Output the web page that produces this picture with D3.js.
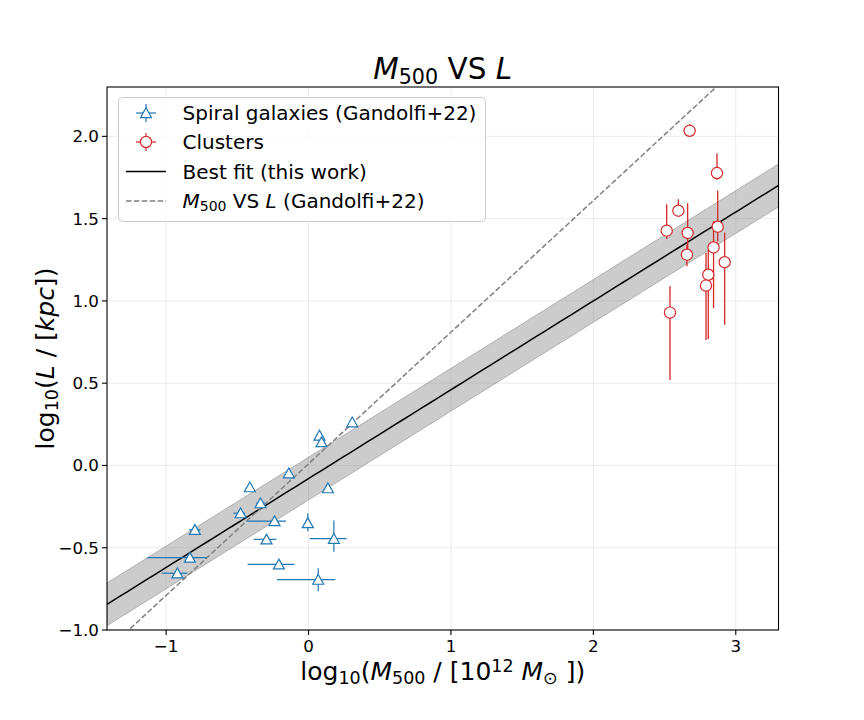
<!DOCTYPE html>
<html><head><meta charset="utf-8">
<script src="https://cdn.jsdelivr.net/npm/d3@7"></script>
<style>body{margin:0;background:#fff}svg{font-family:"DejaVu Sans",sans-serif}</style>
</head><body><svg id="c" width="864" height="720"></svg>
<script>
// ---- data ----
const spiralX     = [0.307, 0.077, 0.091, -0.138, -0.412, 0.136, -0.337, -0.477, -0.239, -0.005, -0.798, -0.295, 0.178, -0.833, -0.208, -0.921, 0.068];
const spiralY     = [0.263, 0.182, 0.142, -0.047, -0.132, -0.138, -0.229, -0.290, -0.338, -0.350, -0.391, -0.449, -0.445, -0.560, -0.601, -0.655, -0.694];
const spiralXErrLo= [0.00, 0.00, 0.00, 0.00, 0.00, 0.00, 0.03, 0.05, 0.19, 0.00, 0.04, 0.09, 0.17, 0.30, 0.22, 0.11, 0.29];
const spiralXErrHi= [0.00, 0.00, 0.00, 0.00, 0.00, 0.00, 0.03, 0.03, 0.08, 0.00, 0.04, 0.07, 0.09, 0.12, 0.11, 0.07, 0.12];
const spiralYErrLo= [0.00, 0.00, 0.00, 0.00, 0.00, 0.00, 0.00, 0.00, 0.00, 0.05, 0.00, 0.00, 0.08, 0.00, 0.00, 0.00, 0.07];
const spiralYErrHi= [0.00, 0.00, 0.00, 0.00, 0.00, 0.00, 0.00, 0.00, 0.00, 0.06, 0.00, 0.00, 0.11, 0.00, 0.00, 0.00, 0.07];

const clusterX    = [2.676, 2.868, 2.597, 2.515, 2.662, 2.873, 2.657, 2.844, 2.922, 2.807, 2.791, 2.538];
const clusterY    = [2.034, 1.777, 1.548, 1.427, 1.413, 1.451, 1.281, 1.325, 1.235, 1.159, 1.093, 0.929];
const clusterYErrLo=[0.03, 0.04, 0.03, 0.05, 0.10, 0.09, 0.07, 0.37, 0.38, 0.39, 0.33, 0.41];
const clusterYErrHi=[0.04, 0.12, 0.07, 0.16, 0.18, 0.22, 0.06, 0.16, 0.18, 0.15, 0.20, 0.16];

const fitSlope = 0.54, fitIntercept = -0.08, fitScatter = 0.13;
const refSlope = 0.80, refIntercept = 0.01;

const xTicks = [-1, 0, 1, 2, 3];
const yTicks = [-1.0, -0.5, 0.0, 0.5, 1.0, 1.5, 2.0];
const xDomain = [-1.415, 3.30];
const yDomain = [-1.0, 2.30];

const legendLabels = ["Spiral galaxies (Gandolfi+22)", "Clusters", "Best fit (this work)", "M500 VS L (Gandolfi+22)"];

// ---- drawing ----
const svg = d3.select("#c");
const L = 107, R = 778.5, T = 87, B = 630;
const x = d3.scaleLinear().domain(xDomain).range([L, R]);
const y = d3.scaleLinear().domain(yDomain).range([B, T]);
const blue = "#1f77b4", red = "#d62728";

svg.append("defs").append("clipPath").attr("id","clip")
  .append("rect").attr("x",L).attr("y",T).attr("width",R-L).attr("height",B-T);

// grid
const grid = svg.append("g");
xTicks.forEach(t => grid.append("line").attr("x1",x(t)).attr("x2",x(t)).attr("y1",T).attr("y2",B)
  .attr("stroke","#b0b0b0").attr("stroke-opacity",0.3).attr("stroke-width",0.8));
yTicks.forEach(t => grid.append("line").attr("y1",y(t)).attr("y2",y(t)).attr("x1",L).attr("x2",R)
  .attr("stroke","#b0b0b0").attr("stroke-opacity",0.3).attr("stroke-width",0.8));

const plot = svg.append("g").attr("clip-path","url(#clip)");
const xs = d3.range(0, 101).map(i => xDomain[0] + (xDomain[1]-xDomain[0])*i/100);

// band
const area = d3.area().x(d => x(d))
  .y0(d => y(fitIntercept + fitSlope*d - fitScatter))
  .y1(d => y(fitIntercept + fitSlope*d + fitScatter));
plot.append("path").datum(xs).attr("d", area)
  .attr("fill","#808080").attr("fill-opacity",0.4)
  .attr("stroke","#808080").attr("stroke-opacity",0.5).attr("stroke-width",1);

// best fit
plot.append("path").datum(xs)
  .attr("d", d3.line().x(d=>x(d)).y(d=>y(fitIntercept+fitSlope*d)))
  .attr("fill","none").attr("stroke","#000").attr("stroke-width",1.5);

// reference dashed
plot.append("path").datum(xs)
  .attr("d", d3.line().x(d=>x(d)).y(d=>y(refIntercept+refSlope*d)))
  .attr("fill","none").attr("stroke","#808080").attr("stroke-width",1.5)
  .attr("stroke-dasharray","5.5,2.4");

// spiral error bars + markers
const sp = plot.append("g");
spiralX.forEach((vx,i) => {
  const vy = spiralY[i];
  if (spiralXErrLo[i] > 0 || spiralXErrHi[i] > 0)
    sp.append("line").attr("x1",x(vx-spiralXErrLo[i])).attr("x2",x(vx+spiralXErrHi[i]))
      .attr("y1",y(vy)).attr("y2",y(vy)).attr("stroke",blue).attr("stroke-width",1.2);
  if (spiralYErrLo[i] > 0 || spiralYErrHi[i] > 0)
    sp.append("line").attr("x1",x(vx)).attr("x2",x(vx))
      .attr("y1",y(vy-spiralYErrLo[i])).attr("y2",y(vy+spiralYErrHi[i])).attr("stroke",blue).attr("stroke-width",1.2);
});
const triPath = (cx, cy) => `M${cx},${cy-5.2}L${cx+5.5},${cy+4.6}L${cx-5.5},${cy+4.6}Z`;
spiralX.forEach((vx,i) => {
  sp.append("path").attr("d", triPath(x(vx), y(spiralY[i])))
    .attr("fill","#fff").attr("stroke",blue).attr("stroke-width",1.2);
});

// clusters
const cl = plot.append("g");
clusterX.forEach((vx,i) => {
  const vy = clusterY[i];
  cl.append("line").attr("x1",x(vx)).attr("x2",x(vx))
    .attr("y1",y(vy-clusterYErrLo[i])).attr("y2",y(vy+clusterYErrHi[i]))
    .attr("stroke",red).attr("stroke-width",1.3);
});
clusterX.forEach((vx,i) => {
  cl.append("circle").attr("cx",x(vx)).attr("cy",y(clusterY[i])).attr("r",5.6)
    .attr("fill","#fff").attr("stroke",red).attr("stroke-width",1.2);
});

// spines
svg.append("rect").attr("x",L).attr("y",T).attr("width",R-L).attr("height",B-T)
  .attr("fill","none").attr("stroke","#000").attr("stroke-width",1.1);

// ticks
const fmtY = d => (d < 0 ? "\u2212" : "") + Math.abs(d).toFixed(1);
const fmtX = d => (d < 0 ? "\u2212" : "") + Math.abs(d);
xTicks.forEach(t => {
  svg.append("line").attr("x1",x(t)).attr("x2",x(t)).attr("y1",B).attr("y2",B+5).attr("stroke","#000").attr("stroke-width",1.1);
  svg.append("text").attr("x",x(t)).attr("y",B+22).attr("text-anchor","middle")
    .attr("font-size",16.7).text(fmtX(t));
});
yTicks.forEach(t => {
  svg.append("line").attr("x1",L-5).attr("x2",L).attr("y1",y(t)).attr("y2",y(t)).attr("stroke","#000").attr("stroke-width",1.1);
  svg.append("text").attr("x",L-8).attr("y",y(t)+6).attr("text-anchor","end")
    .attr("font-size",16.7).text(fmtY(t));
});

function rich(sel, parts, size) {
  parts.forEach(([txt, st]) => {
    const ts = sel.append("tspan").text(txt);
    if (st.includes("i")) ts.attr("font-style","italic");
    if (st.includes("sub")) ts.attr("font-size", size*0.7).attr("baseline-shift","-22%");
    if (st.includes("sup")) ts.attr("font-size", size*0.7).attr("baseline-shift","45%");
  });
}

// title
const title = svg.append("text").attr("x",(L+R)/2).attr("y",79).attr("text-anchor","middle").attr("font-size",29.5);
rich(title, [["M","i"],["500","sub"],[" VS ","n"],["L","i"]], 29.5);

// x label
const xl = svg.append("text").attr("x",(L+R)/2).attr("y",680).attr("text-anchor","middle").attr("font-size",25);
rich(xl, [["log","n"],["10","sub"],["(","n"],["M","i"],["500","sub"],[" / [10","n"],["12","sup"],[" ","n"],["M","i"],["\u2299","sub"],[" ])","n"]], 25);

// y label
const yl = svg.append("text").attr("transform",`translate(54,${(T+B)/2}) rotate(-90)`).attr("text-anchor","middle").attr("font-size",25);
rich(yl, [["log","n"],["10","sub"],["(","n"],["L","i"],[" / [","n"],["kpc","i"],["])","n"]], 25);

// legend
const lg = svg.append("g");
lg.append("rect").attr("x",118.5).attr("y",97.5).attr("width",367).attr("height",124).attr("rx",4)
  .attr("fill","#fff").attr("fill-opacity",0.8).attr("stroke","#cccccc").attr("stroke-width",1);
const rows = [113, 142, 171.5, 201];
const mx = 146;
lg.append("line").attr("x1",mx-10).attr("x2",mx+10).attr("y1",rows[0]).attr("y2",rows[0]).attr("stroke",blue).attr("stroke-width",1.2);
lg.append("line").attr("x1",mx).attr("x2",mx).attr("y1",rows[0]-9).attr("y2",rows[0]+9).attr("stroke",blue).attr("stroke-width",1.2);
lg.append("path").attr("d",triPath(mx,rows[0])).attr("fill","#fff").attr("stroke",blue).attr("stroke-width",1.2);
lg.append("line").attr("x1",mx-10).attr("x2",mx+10).attr("y1",rows[1]).attr("y2",rows[1]).attr("stroke",red).attr("stroke-width",1.2);
lg.append("line").attr("x1",mx).attr("x2",mx).attr("y1",rows[1]-9).attr("y2",rows[1]+9).attr("stroke",red).attr("stroke-width",1.2);
lg.append("circle").attr("cx",mx).attr("cy",rows[1]).attr("r",5.6).attr("fill","#fff").attr("stroke",red).attr("stroke-width",1.2);
lg.append("line").attr("x1",126).attr("x2",166).attr("y1",rows[2]).attr("y2",rows[2]).attr("stroke","#000").attr("stroke-width",1.5);
lg.append("line").attr("x1",126).attr("x2",166).attr("y1",rows[3]).attr("y2",rows[3]).attr("stroke","#808080").attr("stroke-width",1.5).attr("stroke-dasharray","5.5,2.4");

const fs = 20;
legendLabels.forEach((lab,i) => {
  const t = lg.append("text").attr("x",182.5).attr("y",rows[i]+7).attr("font-size",fs);
  if (i === 3) rich(t, [["M","i"],["500","sub"],[" VS ","n"],["L","i"],[" (Gandolfi+22)","n"]], fs);
  else t.text(lab);
});
</script></body></html>
